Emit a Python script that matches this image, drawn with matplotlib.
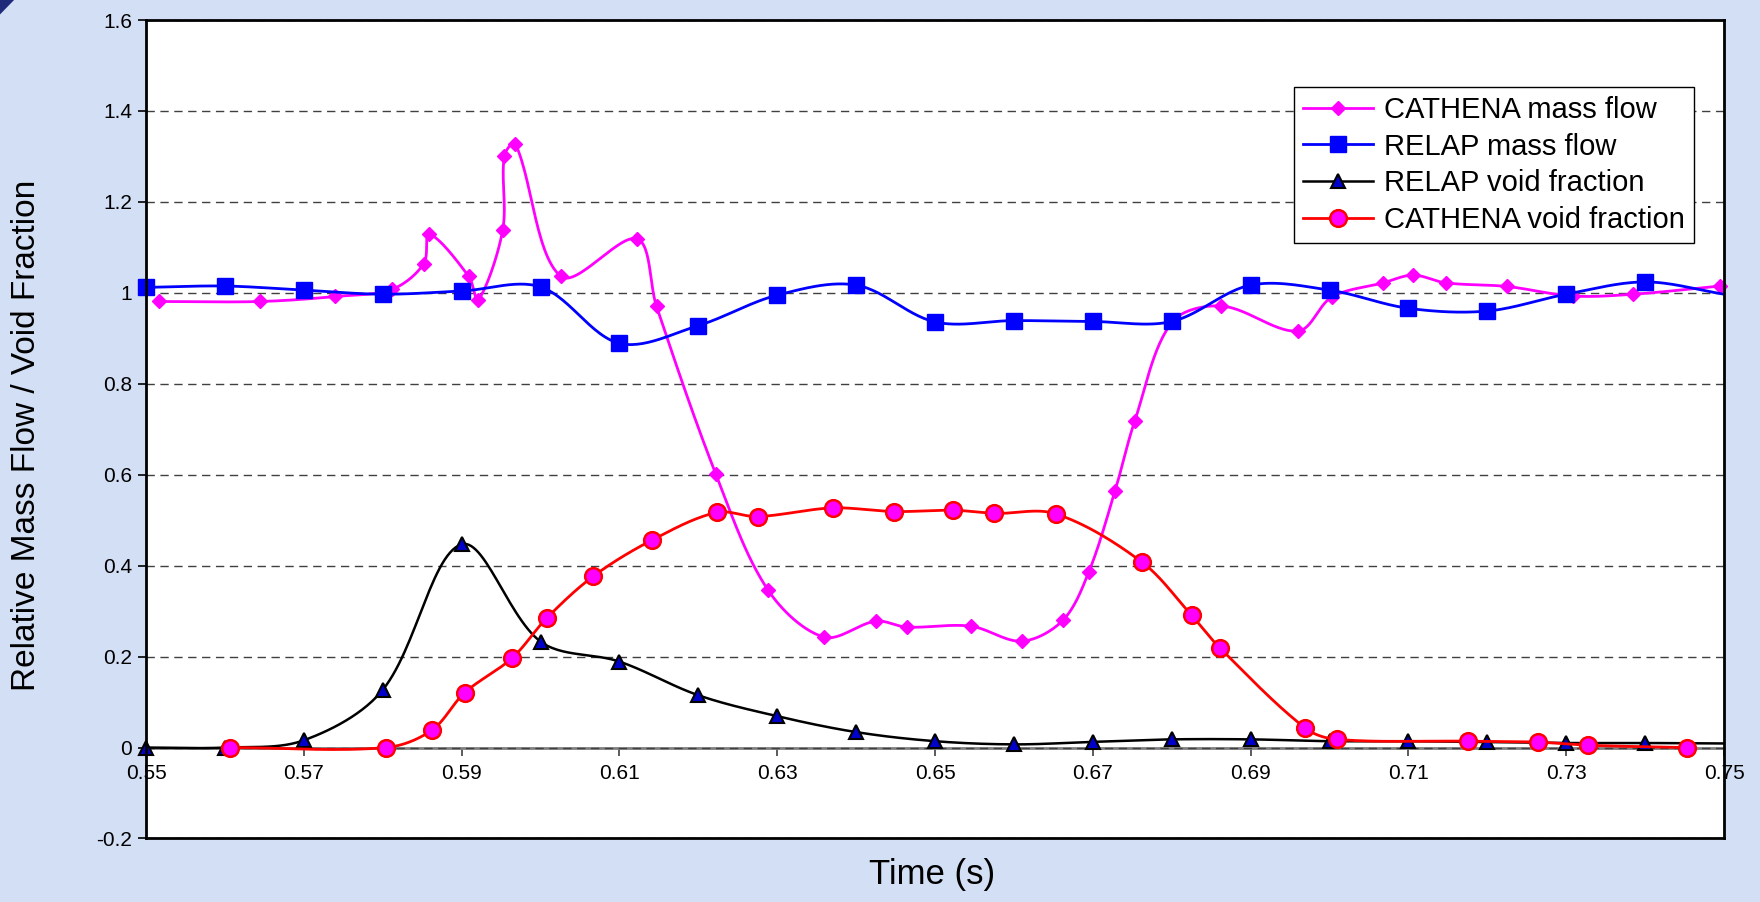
import matplotlib
matplotlib.use("Agg")
import matplotlib.pyplot as plt
import numpy as np
from matplotlib.lines import Line2D
from matplotlib.patches import Polygon
from matplotlib.ticker import FormatStrFormatter

plt.rcParams['font.family'] = ['Liberation Sans', 'DejaVu Sans']

# --- data ---
cathena_flow_t = [0.5516, 0.5645, 0.5740, 0.5812, 0.5852, 0.5859, 0.5909, 0.5921,
                  0.5952, 0.5954, 0.5968, 0.6026, 0.6122, 0.6147, 0.6222, 0.6288,
                  0.6359, 0.6425, 0.6464, 0.6545, 0.6610, 0.6662, 0.6695, 0.6728,
                  0.6753, 0.6800, 0.6863, 0.6960, 0.7003, 0.7068, 0.7106, 0.7147,
                  0.7225, 0.7308, 0.7385, 0.7495]
cathena_flow = [0.981, 0.981, 0.992, 1.008, 1.064, 1.129, 1.036, 0.984,
                1.138, 1.301, 1.328, 1.036, 1.119, 0.970, 0.602, 0.347,
                0.243, 0.278, 0.265, 0.267, 0.234, 0.280, 0.387, 0.564,
                0.718, 0.935, 0.971, 0.916, 0.991, 1.022, 1.039, 1.022,
                1.014, 0.993, 0.997, 1.015]

relap_t = [0.55, 0.56, 0.57, 0.58, 0.59, 0.60, 0.61, 0.62, 0.63, 0.64, 0.65,
           0.66, 0.67, 0.68, 0.69, 0.70, 0.71, 0.72, 0.73, 0.74, 0.75]
relap_flow = [1.012, 1.015, 1.006, 0.997, 1.004, 1.013, 0.889, 0.928, 0.995, 1.017, 0.936,
              0.939, 0.937, 0.937, 1.017, 1.006, 0.966, 0.960, 0.997, 1.024, 0.997]
relap_void = [0.0, 0.0, 0.016, 0.127, 0.447, 0.233, 0.189, 0.115, 0.069, 0.034, 0.014,
              0.007, 0.0125, 0.018, 0.018, 0.014, 0.014, 0.012, 0.010, 0.010, 0.009]

cathena_void_t = [0.5606, 0.5804, 0.5862, 0.5904, 0.5964, 0.6008, 0.6067, 0.6141,
                  0.6223, 0.6275, 0.6370, 0.6448, 0.6523, 0.6575, 0.6653, 0.6762,
                  0.6825, 0.6861, 0.6969, 0.7009, 0.7175, 0.7264, 0.7328, 0.7453]
cathena_void = [0.0, 0.0, 0.038, 0.121, 0.197, 0.285, 0.377, 0.456,
                0.517, 0.508, 0.527, 0.519, 0.522, 0.515, 0.514, 0.408,
                0.291, 0.219, 0.043, 0.018, 0.014, 0.012, 0.005, 0.0]

x_ticks = [0.55, 0.57, 0.59, 0.61, 0.63, 0.65, 0.67, 0.69, 0.71, 0.73, 0.75]
y_ticks = [-0.2, 0, 0.2, 0.4, 0.6, 0.8, 1.0, 1.2, 1.4, 1.6]
labels = ['CATHENA mass flow', 'RELAP mass flow', 'RELAP void fraction', 'CATHENA void fraction']

XLIM = (0.55, 0.75)
YLIM = (-0.2, 1.6)


def smooth(xs, ys, n=30, sx=1578 / 0.2, sy=818 / 1.8):
    # Excel-like smoothed line: cubic bezier, neighbour tangents scaled by
    # segment length (in screen units) so short segments do not overshoot
    P = np.column_stack([np.asarray(xs) * sx, np.asarray(ys) * sy])
    out = [P[0]]
    t = np.linspace(0, 1, n)[1:, None]
    for i in range(len(P) - 1):
        p0 = P[i - 1] if i > 0 else P[i]
        p1, p2 = P[i], P[i + 1]
        p3 = P[i + 2] if i + 2 < len(P) else P[i + 1]
        d01 = np.hypot(*(p1 - p0))
        d12 = np.hypot(*(p2 - p1))
        d23 = np.hypot(*(p3 - p2))
        w1 = d12 / (d01 + d12) if d01 + d12 > 0 else 0.5
        w2 = d12 / (d12 + d23) if d12 + d23 > 0 else 0.5
        c1 = p1 + (p2 - p0) * w1 / 3
        c2 = p2 - (p3 - p1) * w2 / 3
        seg = (1 - t) ** 3 * p1 + 3 * (1 - t) ** 2 * t * c1 + 3 * (1 - t) * t ** 2 * c2 + t ** 3 * p2
        out.extend(seg)
    out = np.array(out)
    return out[:, 0] / sx, out[:, 1] / sy


bg = '#D3DFF5'
fig = plt.figure(figsize=(17.6, 9.02), dpi=100, facecolor=bg)
ax = fig.add_axes([0.083, 0.0704, 0.8966, 0.9074])
ax.set_facecolor('white')

series = [
    (cathena_flow_t, cathena_flow, dict(color='#FF00FF', lw=2.0), dict(marker='D', ms=7, mfc='#FF00FF', mec='#FF00FF', mew=1), None),
    (relap_t, relap_flow, dict(color='#0000FF', lw=2.0), dict(marker='s', ms=11, mfc='#0000FF', mec='#0000FF', mew=1), -1),
    (relap_t, relap_void, dict(color='black', lw=1.8), dict(marker='^', ms=10.5, mfc='#0000CC', mec='black', mew=1.5), -1),
    (cathena_void_t, cathena_void, dict(color='#FF0000', lw=2.0), dict(marker='o', ms=12, mfc='#FF00FF', mec='#FF0000', mew=1.8), None),
]

handles = []
for (xs, ys, lkw, mkw, last), lab in zip(series, labels):
    sx, sy = smooth(xs, ys)
    ax.plot(sx, sy, **lkw)
    ax.plot(xs[:last], ys[:last], ls='none', clip_on=False, **mkw)
    handles.append(Line2D([], [], label=lab, **lkw, **mkw))

ax.set_xlim(*XLIM)
ax.set_ylim(*YLIM)

ax.set_yticks(y_ticks)
ax.yaxis.set_major_formatter(FormatStrFormatter('%g'))
ax.tick_params(axis='y', direction='out', length=6, width=1.2, labelsize=15, pad=4)
ax.tick_params(axis='x', bottom=False, labelbottom=False)
ax.yaxis.grid(True, linestyle=(0, (6, 4)), color='#404040', lw=1.0)
ax.set_axisbelow(True)

for s in ax.spines.values():
    s.set_color('black')
    s.set_linewidth(2.0)

# x axis crossing at y = 0
secax = ax.secondary_xaxis((0 - YLIM[0]) / (YLIM[1] - YLIM[0]))
secax.set_xticks(x_ticks)
secax.xaxis.set_major_formatter(FormatStrFormatter('%.2f'))
secax.spines['bottom'].set_color('#808080')
secax.spines['bottom'].set_linewidth(2.0)
secax.tick_params(axis='x', direction='out', length=6, width=1.2, color='#404040', labelsize=15, pad=6)

ax.set_ylabel('Relative Mass Flow / Void Fraction', fontsize=24)
ax.yaxis.set_label_coords(-0.066, 0.493)
ax.set_xlabel('Time (s)', fontsize=25)
ax.xaxis.set_label_coords(0.498, -0.024)

leg = ax.legend(handles=handles, loc='upper right', bbox_to_anchor=(0.981, 0.918),
                fontsize=21, frameon=True, fancybox=False, framealpha=1, edgecolor='black',
                handlelength=2.4, labelspacing=0.3, borderpad=0.3, handletextpad=0.4,
                borderaxespad=0)
leg.get_frame().set_linewidth(1.0)

fig.patches.append(Polygon([(0, 1), (0.008, 1), (0, 0.984)], closed=True,
                           transform=fig.transFigure, facecolor='#1F2A7A', edgecolor='none'))

fig.savefig('out.png', dpi=100, facecolor=bg)
